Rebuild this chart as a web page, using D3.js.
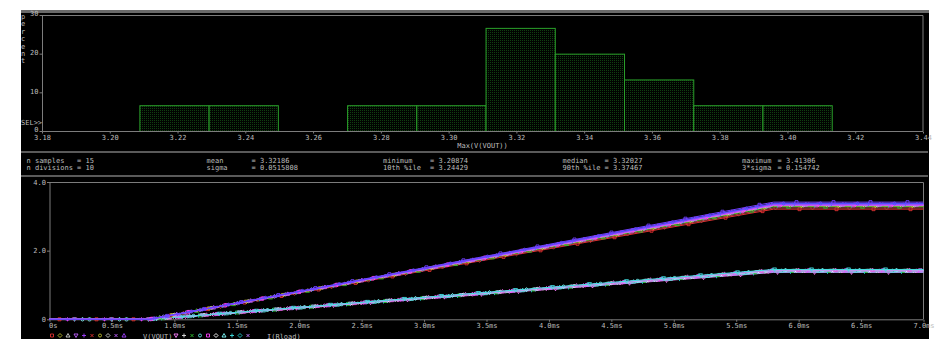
<!DOCTYPE html>
<html><head><meta charset="utf-8">
<script src="https://cdn.jsdelivr.net/npm/d3@7"></script>
<style>
html,body{margin:0;padding:0;background:#fff;}
svg{display:block;}
text{font-family:"DejaVu Sans Mono",monospace;font-size:7px;fill:#bdbdbd;}
</style></head><body>
<svg id="c" width="936" height="339"></svg>
<script>
// ---- Histogram of Max(V(VOUT)) over the Monte Carlo runs ----
const histTicks = [3.18, 3.20, 3.22, 3.24, 3.26, 3.28, 3.30, 3.32, 3.34, 3.36, 3.38, 3.40, 3.42, 3.44];
const percentTicks = [0, 10, 20, 30];
const binEdges = [3.20874, 3.229172, 3.249604, 3.270036, 3.290468, 3.3109, 3.331332, 3.351764, 3.372196, 3.392628, 3.41306];
const binPercent = [6.67, 6.67, 0, 6.67, 6.67, 26.67, 20, 13.33, 6.67, 6.67];

// ---- Summary statistics ----
const statLabels = [["n samples", "n divisions"], ["mean", "sigma"], ["minimum", "10th %ile"], ["median", "90th %ile"], ["maximum", "3*sigma"]];
const statValues = [["= 15", "= 10"], ["= 3.32186", "= 0.0515808"], ["= 3.20874", "= 3.24429"], ["= 3.32027", "= 3.37467"], ["= 3.41306", "= 0.154742"]];

// ---- Transient waveforms ----
const timeTicks = [0, 0.5, 1.0, 1.5, 2.0, 2.5, 3.0, 3.5, 4.0, 4.5, 5.0, 5.5, 6.0, 6.5, 7.0];
const timeTickLabels = ["0s", "0.5ms", "1.0ms", "1.5ms", "2.0ms", "2.5ms", "3.0ms", "3.5ms", "4.0ms", "4.5ms", "5.0ms", "5.5ms", "6.0ms", "6.5ms", "7.0ms"];
const levelTicks = [0, 2, 4];
const levelTickLabels = ["0", "2.0", "4.0"];
// breakpoints of each run (ms): flat, soft-start ramp, settled
const breakTimes = [0, 0.8, 5.8, 7.0];
const voutFinal = [3.20874, 3.24429, 3.2815, 3.3012, 3.3125, 3.3170, 3.3195, 3.32027, 3.3352, 3.3381, 3.3420, 3.3540, 3.3640, 3.37467, 3.41306];
const iloadFinal = [1.366, 1.381, 1.396, 1.405, 1.410, 1.412, 1.413, 1.413, 1.419, 1.422, 1.425, 1.428, 1.432, 1.436, 1.452];
const runColors = ["#e03030", "#b04040", "#30c030", "#c0c030", "#20c0c0", "#ff80c0", "#d0d0d0", "#e040e0", "#8080ff", "#c060ff", "#ff40ff", "#6060ff", "#a040ff", "#5050ff", "#7040ff"];
const iColors = ["#ff80ff", "#20d0d0", "#e0e0e0", "#c080ff", "#30c030", "#ff60ff", "#60e0e0", "#b0b0ff", "#ff40ff", "#40c0c0", "#ffffff", "#d070ff", "#80ffff", "#e060e0", "#40e0e0"];

const svg = d3.select("#c");
const gray = "#7c7c7c";

// panel background
svg.append("rect").attr("x", 21).attr("y", 10).attr("width", 908).attr("height", 329).attr("fill", "#000");
svg.append("rect").attr("x", 21).attr("y", 10).attr("width", 908).attr("height", 3).attr("fill", "#6a6a6a");

// ===== histogram =====
const hx = d3.scaleLinear().domain([3.18, 3.44]).range([42, 923]);
const hy = d3.scaleLinear().domain([0, 30]).range([131, 15]);

const defs = svg.append("defs");
const pat = defs.append("pattern").attr("id", "dots").attr("patternUnits", "userSpaceOnUse")
  .attr("width", 2).attr("height", 2);
pat.append("rect").attr("width", 2).attr("height", 2).attr("fill", "#010301");
pat.append("rect").attr("width", 1).attr("height", 1).attr("fill", "#103e10");

const bins = binPercent.map((p, i) => ({ x0: binEdges[i], x1: binEdges[i + 1], p }));
svg.append("g").selectAll("rect").data(bins.filter(b => b.p > 0)).join("rect")
  .attr("x", d => hx(d.x0) + 0.5).attr("y", d => hy(d.p) + 0.5)
  .attr("width", d => hx(d.x1) - hx(d.x0)).attr("height", d => hy(0) - hy(d.p))
  .attr("fill", "url(#dots)").attr("stroke", "#2aa02a").attr("stroke-width", 1);

// frame
const hf = svg.append("g").attr("stroke", gray).attr("fill", "none");
hf.append("path").attr("d", `M${hx(3.18)},${hy(30) + 0.5}H${hx(3.44)}V${hy(0)}`);
hf.append("path").attr("d", `M${hx(3.18) + 0.5},${hy(30)}V${hy(0) + 0.5}H${hx(3.44)}`);

const hxAxis = svg.append("g").attr("transform", `translate(0,${hy(0) + 0.5})`)
  .call(d3.axisBottom(hx).tickValues(histTicks).tickFormat(d3.format(".2f")).tickSizeInner(2).tickSizeOuter(0).tickPadding(1.5));
const hyAxis = svg.append("g").attr("transform", `translate(${hx(3.18) + 0.5},0)`)
  .call(d3.axisLeft(hy).tickValues(percentTicks).tickFormat(d3.format("d")).tickSizeInner(3).tickSizeOuter(0).tickPadding(1));
[hxAxis, hyAxis].forEach(a => {
  a.select(".domain").remove();
  a.selectAll("line").attr("stroke", gray);
  a.selectAll("text").attr("fill", "#bdbdbd").style("font-family", "DejaVu Sans Mono").style("font-size", "7px");
});
hyAxis.selectAll("text").attr("dy", "0.1em");

svg.append("text").attr("x", (hx(3.18) + hx(3.44)) / 2).attr("y", 148).attr("text-anchor", "middle").text("Max(V(VOUT))");
svg.append("g").selectAll("text").data("percent".split("")).join("text")
  .attr("x", 23).attr("y", (d, i) => 19 + i * 7.4).attr("text-anchor", "middle").text(d => d);
svg.append("text").attr("x", 21).attr("y", 124.5).text("SEL>>");

// ===== statistics strip =====
svg.append("rect").attr("x", 21).attr("y", 151).attr("width", 907).attr("height", 2).attr("fill", "#5a5a5a");
svg.append("rect").attr("x", 21).attr("y", 175).attr("width", 907).attr("height", 2).attr("fill", "#5a5a5a");
const labelX = [26.5, 206.5, 383, 562.5, 742];
const valueX = [77, 251.5, 430, 604.5, 777.5];
const rowY = [162.5, 169.8];
statLabels.forEach((col, c) => col.forEach((t, r) => {
  svg.append("text").attr("x", labelX[c]).attr("y", rowY[r]).text(t);
  svg.append("text").attr("x", valueX[c]).attr("y", rowY[r]).text(statValues[c][r]);
}));

// ===== transient plot =====
const tx = d3.scaleLinear().domain([0, 7]).range([49.5, 923.5]);
const ty = d3.scaleLinear().domain([0, 4]).range([319.3, 182]);

const tf = svg.append("g").attr("stroke", gray).attr("fill", "none");
tf.append("path").attr("d", `M${tx(0)},${ty(4) + 0.5}H${tx(7)}V${ty(0)}`);
tf.append("path").attr("d", `M${tx(0) + 0.5},${ty(4)}V${ty(0) + 0.5}H${tx(7)}`);

const txAxis = svg.append("g").attr("transform", `translate(0,${ty(0) + 0.5})`)
  .call(d3.axisBottom(tx).tickValues(timeTicks).tickFormat((d, i) => timeTickLabels[i]).tickSizeInner(2).tickSizeOuter(0).tickPadding(1.5));
const tyAxis = svg.append("g").attr("transform", `translate(${tx(0) + 0.5},0)`)
  .call(d3.axisLeft(ty).tickValues(levelTicks).tickFormat((d, i) => levelTickLabels[i]).tickSizeInner(3).tickSizeOuter(0).tickPadding(1));
[txAxis, tyAxis].forEach(a => {
  a.select(".domain").remove();
  a.selectAll("line").attr("stroke", gray);
  a.selectAll("text").attr("fill", "#bdbdbd").style("font-family", "DejaVu Sans Mono").style("font-size", "7px");
});
txAxis.selectAll(".tick:first-child text").attr("text-anchor", "start").attr("dx", -1);

// marker symbols used to tell the runs apart
const shapes = ["square", "diamond", "tri", "itri", "plus", "cross", "circle"];
function marker(g, shape, cx, cy, col) {
  const s = 1.5;
  let d;
  switch (shape) {
    case "square": d = `M${cx - s},${cy - s}h${2 * s}v${2 * s}h${-2 * s}Z`; break;
    case "diamond": d = `M${cx},${cy - s - 0.5}L${cx + s + 0.5},${cy}L${cx},${cy + s + 0.5}L${cx - s - 0.5},${cy}Z`; break;
    case "tri": d = `M${cx},${cy - s - 0.5}L${cx + s + 0.5},${cy + s}L${cx - s - 0.5},${cy + s}Z`; break;
    case "itri": d = `M${cx},${cy + s + 0.5}L${cx + s + 0.5},${cy - s}L${cx - s - 0.5},${cy - s}Z`; break;
    case "plus": d = `M${cx - s - 0.5},${cy}H${cx + s + 0.5}M${cx},${cy - s - 0.5}V${cy + s + 0.5}`; break;
    case "cross": d = `M${cx - s},${cy - s}L${cx + s},${cy + s}M${cx + s},${cy - s}L${cx - s},${cy + s}`; break;
    default: d = `M${cx - s},${cy}a${s},${s} 0 1,0 ${2 * s},0a${s},${s} 0 1,0 ${-2 * s},0`;
  }
  g.append("path").attr("d", d).attr("fill", "none").attr("stroke", col).attr("stroke-width", 0.9);
}

const line = d3.line().x(d => tx(d[0])).y(d => ty(d[1]));
const plot = svg.append("g");
function drawRuns(finals, colors, phase) {
  finals.forEach((f, k) => {
    const pts = [[breakTimes[0], 0], [breakTimes[1], 0], [breakTimes[2], f], [breakTimes[3], f]];
    plot.append("path").datum(pts).attr("d", line).attr("fill", "none")
      .attr("stroke", colors[k]).attr("stroke-width", 1);
    const interp = t => (t <= pts[1][0] ? 0 : t >= pts[2][0] ? f : f * (t - pts[1][0]) / (pts[2][0] - pts[1][0]));
    const mg = plot.append("g");
    for (let px = tx(0) + 10 + ((k * 13 + phase * 5) % 37); px < tx(7) - 2; px += 37) {
      const t = tx.invert(px);
      // only a few runs carry symbols on the flat start segment
      if (t < breakTimes[1] && k % 4 !== 0) continue;
      marker(mg, shapes[(k + phase) % shapes.length], px, ty(interp(t)), colors[k]);
    }
  });
}
drawRuns(iloadFinal, iColors, 3);
drawRuns(voutFinal, runColors, 0);

// legend (trace names with their symbols)
const lg = svg.append("g");
const legA = [0, 1, 2, 3, 4, 5, 6, 1, 5, 2];
legA.forEach((s, i) => marker(lg, shapes[s], 52 + i * 8, 335.5, runColors[(i * 3) % 15]));
svg.append("text").attr("x", 143).attr("y", 338.5).text("V(VOUT)");
legA.forEach((s, i) => marker(lg, shapes[(s + 3) % 7], 176 + i * 8, 335.5, iColors[(i * 2) % 15]));
svg.append("text").attr("x", 267).attr("y", 338.5).text("I(Rload)");
</script></body></html>
